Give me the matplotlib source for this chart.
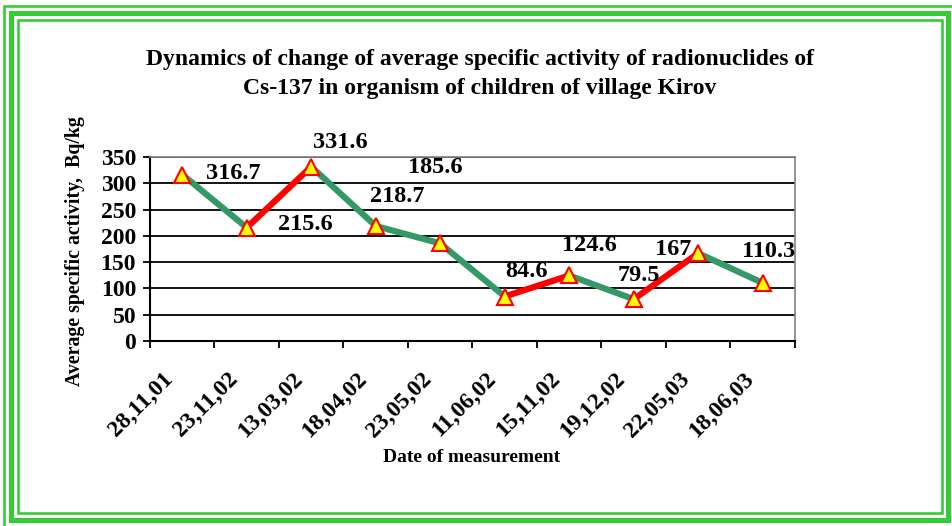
import numpy as np
import matplotlib.pyplot as plt
from matplotlib.patches import Rectangle

plt.rcParams['font.family'] = ['Liberation Serif', 'DejaVu Serif']
plt.rcParams['font.weight'] = 'bold'

dates = ["28,11,01", "23,11,02", "13,03,02", "18,04,02", "23,05,02",
         "11,06,02", "15,11,02", "19,12,02", "22,05,03", "18,06,03"]
activity = [316.7, 215.6, 331.6, 218.7, 185.6, 84.6, 124.6, 79.5, 167, 110.3]
y_ticks = [0, 50, 100, 150, 200, 250, 300, 350]

# label offsets in pixels from each point (hand placed, like the chart editor)
label_offsets = [(51, 1), (59, 3), (29, 24), (22, 30), (-5, 76),
                 (22, 25), (20, 30), (5, 24), (-25, 4), (6, 32)]

W, H = 953, 526
fig = plt.figure(figsize=(W / 100, H / 100), dpi=100)

# green triple frame round the chart
def frame(left, top, right, bottom, lw, color="#33cc33"):
    r = Rectangle((left / W, 1 - bottom / H), (right - left) / W, (bottom - top) / H,
                  transform=fig.transFigure, fill=False, edgecolor=color,
                  linewidth=lw * 0.72)
    fig.add_artist(r)

frame(4.3, 5.8, 955, 528, 2.6)
frame(11.5, 12.7, 948.3, 519.7, 5)
frame(18, 19.6, 941.7, 512.9, 2.6)

ax = fig.add_axes([150 / W, 1 - 341 / H, (795 - 150) / W, (341 - 157) / H])

x = np.arange(len(activity))

# segments: red where the activity rises, green where it falls
for i in range(len(activity) - 1):
    col = "#ff0000" if activity[i + 1] > activity[i] else "#339966"
    ax.plot(x[i:i + 2], activity[i:i + 2], color=col, linewidth=4.5,
            solid_capstyle="butt", zorder=3)

ax.plot(x, activity, linestyle="none", marker="^", markersize=11,
        markerfacecolor="#ffff00", markeredgecolor="#ff0000",
        markeredgewidth=1.5, zorder=4)

for i, v in enumerate(activity):
    ax.annotate(f"{v:g}", xy=(x[i], v), xytext=label_offsets[i],
                textcoords="offset pixels", ha="center", va="center",
                fontsize=17.5, fontweight="bold", zorder=5)

ax.set_xlim(-0.5, len(activity) - 0.5)
ax.set_ylim(0, 350)
ax.set_yticks(y_ticks)
ax.yaxis.grid(True, color="black", linewidth=1.3)
ax.set_axisbelow(True)

ax.tick_params(axis="y", length=5, width=1.3, pad=5, labelsize=17)
for lab in ax.get_yticklabels():
    lab.set_fontweight("bold")

# tick marks between categories, labels at the centres
ax.set_xticks(np.arange(-0.5, len(activity), 1.0))
ax.set_xticklabels([])
ax.tick_params(axis="x", length=5, width=1.3)
for i, d in enumerate(dates):
    ax.annotate(d, xy=(x[i], 0), xytext=(-12, -35), textcoords="offset pixels",
                ha="right", va="center", rotation=45, rotation_mode="anchor",
                fontsize=17, fontweight="bold", annotation_clip=False)

for side in ["left", "bottom"]:
    ax.spines[side].set_color("black")
    ax.spines[side].set_linewidth(1.5)
for side in ["top", "right"]:
    ax.spines[side].set_color("#808080")
    ax.spines[side].set_linewidth(1.2)

fig.text(480 / W, 1 - 74 / H,
         "Dynamics of change of average specific activity of radionuclides of\n"
         "Cs-137 in organism of children of village Kirov",
         ha="center", va="center", fontsize=17, fontweight="bold",
         linespacing=1.55)
fig.text(75 / W, 1 - 251 / H, "Average specific activity,  Bq/kg",
         rotation=90, ha="center", va="center", fontsize=14.3, fontweight="bold")
fig.text(472 / W, 1 - 458 / H, "Date of measurement",
         ha="center", va="center", fontsize=14, fontweight="bold")

fig.savefig("out.png", dpi=100)
